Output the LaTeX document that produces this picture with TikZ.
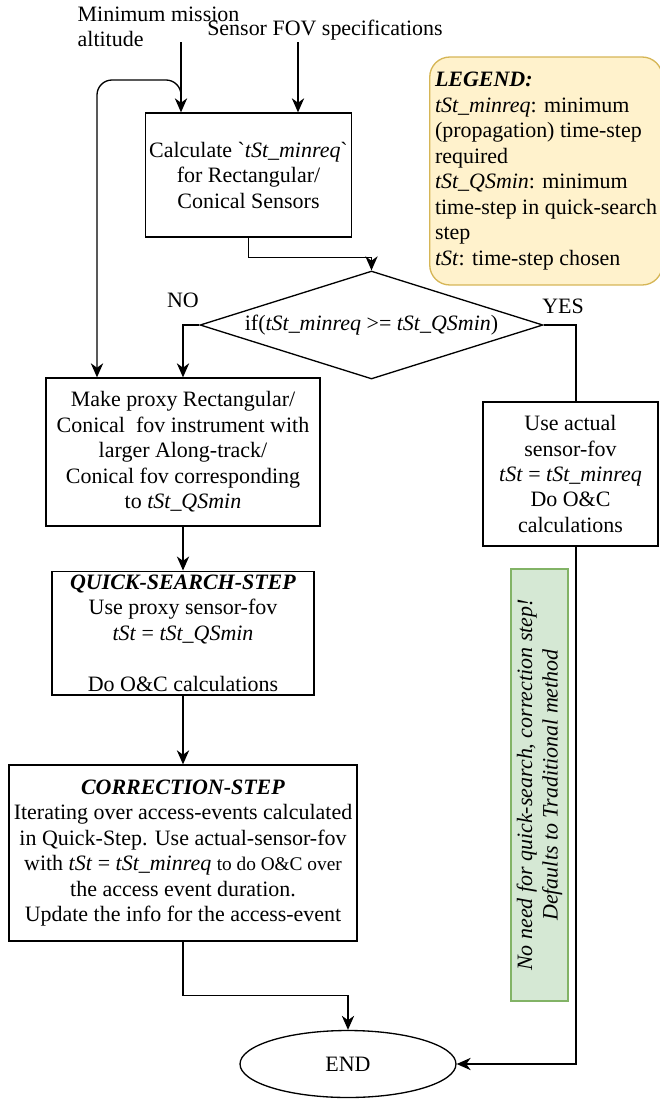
\documentclass[tikz,border=0pt]{standalone}
\usepackage{fontspec}
\setmainfont{Liberation Serif}
\usetikzlibrary{shapes.geometric,arrows.meta}
\definecolor{legendfill}{HTML}{FFF2CC}
\definecolor{legenddraw}{HTML}{D6B656}
\definecolor{notefill}{HTML}{D5E8D4}
\definecolor{notedraw}{HTML}{82B366}

\begin{document}
\begin{tikzpicture}[x=0.02cm,y=-0.02cm,font=\fontsize{12.5}{14.5}\selectfont,
  line width=0.75pt,>={Stealth[length=8pt,width=7pt,inset=2.5pt]},
  box/.style={draw,align=center,inner sep=2pt},
  decision/.style={draw,diamond,aspect=3.2,inner sep=0pt,align=center},
  terminal/.style={draw,ellipse,inner sep=0pt},
  legendbox/.style={draw=legenddraw,fill=legendfill,rounded corners=0.4cm,align=left,inner sep=3pt},
  notebox/.style={draw=notedraw,fill=notefill,line width=1.2pt,align=center,font=\fontsize{12.5}{14.5}\selectfont\itshape}]
\useasboundingbox (0,0) rectangle (660,1100);

% inputs
\node[anchor=north west,align=left,inner sep=0pt] (altitude) at (77,6) {Minimum mission\\altitude};
\node[inner sep=0pt] (fovspec) at (325,30) {Sensor FOV specifications};
\coordinate (alttop) at (181,42);
\coordinate (fovtop) at (298,42);
\coordinate (split) at (181,105);
\coordinate (loopx) at (97,80);
\coordinate (yesx) at (576,0);

% boxes
\node[box,minimum width=4.02cm,minimum height=2.48cm] (calc) at (248.5,175)
  {Calculate \textasciigrave\textit{tSt\_minreq}\textasciigrave\\for Rectangular/\\Conical Sensors};
\node[decision,minimum width=6.86cm,minimum height=2.16cm] (check) at (371.5,325)
  {if(\textit{tSt\_minreq} >= \textit{tSt\_QSmin})};
\node[box,minimum width=5.48cm,minimum height=2.96cm] (proxy) at (183,452)
  {Make proxy Rectangular/\\Conical\ \ fov instrument with\\larger Along-track/\\Conical fov corresponding\\to \textit{tSt\_QSmin}};
\node[box,minimum width=3.5cm,minimum height=2.88cm] (actual) at (570.5,474)
  {Use actual\\sensor-fov\\\textit{tSt} = \textit{tSt\_minreq}\\Do O\&C\\calculations};
\node[box,minimum width=5.24cm,minimum height=2.24cm] (quick) at (183,633)
  {\textbf{\textit{QUICK-SEARCH-STEP}}\\Use proxy sensor-fov\\\textit{tSt} = \textit{tSt\_QSmin}\\[14.5pt]Do O\&C calculations};
\node[box,minimum width=6.96cm,minimum height=3.52cm] (correct) at (183,853)
  {\textbf{\textit{CORRECTION-STEP}}\\Iterating over access-events calculated\\in Quick-Step. Use actual-sensor-fov\\with \textit{tSt} = \textit{tSt\_minreq} {\fontsize{11}{14.5}\selectfont to do O\&C over}\\the access event duration.\\Update the info for the access-event};
\node[terminal,minimum width=4.32cm,minimum height=1.34cm] (end) at (348,1064) {END};

% legend and note
\node[legendbox,minimum width=4.48cm,minimum height=4.56cm] (legend) at (546,171)
  {\textbf{\textit{LEGEND:}}\\\textit{tSt\_minreq}: minimum\\(propagation) time-step\\required\\\textit{tSt\_QSmin}: minimum\\time-step in quick-search\\step\\\textit{tSt}: time-step chosen};
\node[notebox,rotate=90,minimum width=8.64cm,minimum height=1.1cm] (note) at (539.5,785)
  {No need for quick-search, correction step!\\Defaults to Traditional method};

% labels
\node (no) at (183,300) {NO};
\node (yes) at (563,306) {YES};

% connectors
\draw[->] (alttop) -- (calc.north -| alttop);
\draw[->] (fovtop) -- (calc.north -| fovtop);
\draw[->,rounded corners=0.3cm] (split) |- (loopx) -- (proxy.north -| loopx);
\draw[->] (calc.south) -- ++(0,20) -| (check.north);
\draw[->] (check.west) -| (proxy.north);
\draw (check.east) -| (actual.north -| yesx);
\draw[->] (proxy.south) -- (quick.north);
\draw[->] (quick.south) -- (correct.north);
\draw[->] (correct.south) -- ++(0,54) -| (end.north);
\draw[->] (actual.south -| yesx) |- (end.east);
\end{tikzpicture}
\end{document}
